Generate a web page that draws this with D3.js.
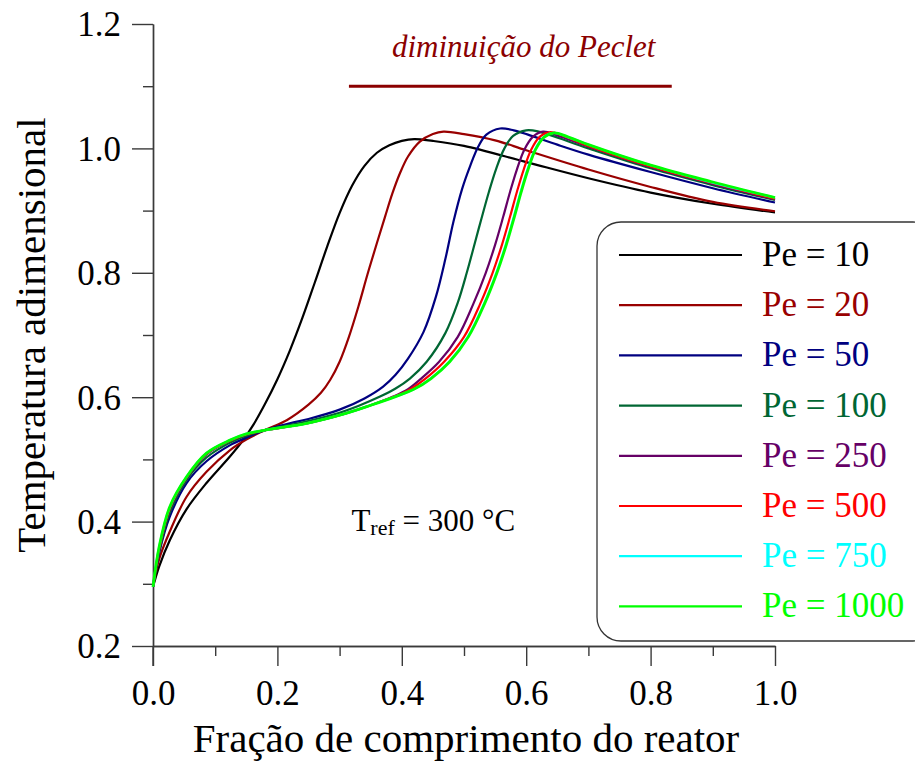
<!DOCTYPE html>
<html>
<head>
<meta charset="utf-8">
<script src="https://cdn.jsdelivr.net/npm/d3@7/dist/d3.min.js"></script>
<style>
  html, body { margin: 0; padding: 0; background: #fff; }
  svg { display: block; }
  text { font-family: "Liberation Serif", "Times New Roman", "DejaVu Serif", serif; }
</style>
</head>
<body>
<svg id="chart" width="915" height="762"></svg>
<script>
// Temperature profiles along the reactor for several Peclet numbers
const peLabels = ["Pe = 10", "Pe = 20", "Pe = 50", "Pe = 100", "Pe = 250", "Pe = 500", "Pe = 750", "Pe = 1000"];
const peColors = ["#000000", "#990000", "#000080", "#006633", "#660066", "#ff0000", "#00ffff", "#00ff00"];

const pe10 = [[0,0.295],[0.01,0.328],[0.027,0.37],[0.054,0.42],[0.086,0.462],[0.124,0.505],[0.145,0.531],[0.161,0.555],[0.18,0.589],[0.2,0.629],[0.22,0.675],[0.24,0.727],[0.26,0.784],[0.28,0.842],[0.3,0.896],[0.32,0.94],[0.34,0.972],[0.36,0.993],[0.38,1.005],[0.4,1.012],[0.42,1.015],[0.45,1.012],[0.5,1.004],[0.6,0.978],[0.7,0.952],[0.8,0.929],[0.9,0.911],[1.0,0.897]];
const pe20 = [[0,0.295],[0.01,0.34],[0.027,0.384],[0.054,0.44],[0.086,0.48],[0.124,0.515],[0.15,0.532],[0.18,0.547],[0.215,0.563],[0.25,0.588],[0.27,0.607],[0.285,0.628],[0.3,0.657],[0.315,0.697],[0.33,0.745],[0.345,0.798],[0.36,0.848],[0.373,0.89],[0.385,0.928],[0.397,0.96],[0.41,0.987],[0.429,1.011],[0.45,1.023],[0.467,1.027],[0.5,1.023],[0.55,1.013],[0.6,0.997],[0.7,0.966],[0.8,0.938],[0.9,0.914],[1.0,0.899]];
const pe50 = [[0,0.295],[0.01,0.35],[0.027,0.408],[0.054,0.462],[0.086,0.497],[0.124,0.523],[0.15,0.535],[0.18,0.547],[0.22,0.558],[0.25,0.565],[0.3,0.58],[0.34,0.598],[0.37,0.617],[0.39,0.636],[0.41,0.662],[0.435,0.705],[0.455,0.762],[0.47,0.822],[0.483,0.882],[0.497,0.935],[0.51,0.972],[0.523,1.003],[0.536,1.022],[0.558,1.032],[0.58,1.029],[0.606,1.021],[0.65,1.006],[0.7,0.99],[0.8,0.962],[0.9,0.936],[1.0,0.913]];
const pe100 = [[0,0.295],[0.01,0.352],[0.027,0.415],[0.054,0.467],[0.086,0.503],[0.124,0.527],[0.15,0.538],[0.18,0.547],[0.23,0.557],[0.29,0.572],[0.33,0.586],[0.365,0.601],[0.39,0.614],[0.413,0.63],[0.44,0.657],[0.47,0.703],[0.49,0.752],[0.505,0.802],[0.518,0.85],[0.528,0.887],[0.54,0.93],[0.552,0.968],[0.565,1.0],[0.579,1.02],[0.6,1.029],[0.62,1.027],[0.7,1.0],[0.8,0.968],[0.9,0.941],[1.0,0.917]];
const pe250 = [[0,0.295],[0.01,0.355],[0.027,0.42],[0.054,0.47],[0.086,0.508],[0.124,0.53],[0.15,0.54],[0.18,0.547],[0.247,0.558],[0.31,0.574],[0.35,0.587],[0.386,0.601],[0.41,0.613],[0.43,0.629],[0.46,0.657],[0.49,0.697],[0.515,0.75],[0.535,0.80],[0.55,0.845],[0.563,0.89],[0.574,0.93],[0.585,0.966],[0.597,0.998],[0.611,1.019],[0.627,1.027],[0.65,1.021],[0.7,1.003],[0.8,0.97],[0.9,0.943],[1.0,0.918]];
const pe500 = [[0,0.295],[0.01,0.357],[0.027,0.421],[0.054,0.471],[0.086,0.509],[0.124,0.53],[0.15,0.54],[0.18,0.547],[0.247,0.558],[0.31,0.574],[0.35,0.587],[0.388,0.601],[0.414,0.613],[0.437,0.629],[0.468,0.657],[0.5,0.697],[0.526,0.75],[0.546,0.80],[0.561,0.845],[0.574,0.89],[0.585,0.93],[0.596,0.966],[0.608,0.998],[0.622,1.019],[0.638,1.026],[0.66,1.02],[0.7,1.004],[0.8,0.971],[0.9,0.944],[1.0,0.919]];
const pe750 = [[0,0.295],[0.01,0.36],[0.027,0.423],[0.054,0.472],[0.086,0.51],[0.124,0.531],[0.15,0.541],[0.18,0.547],[0.247,0.558],[0.31,0.574],[0.35,0.587],[0.39,0.601],[0.42,0.613],[0.446,0.63],[0.476,0.657],[0.506,0.697],[0.532,0.75],[0.552,0.80],[0.567,0.845],[0.58,0.89],[0.591,0.93],[0.602,0.966],[0.614,0.998],[0.628,1.018],[0.644,1.025],[0.665,1.019],[0.7,1.006],[0.8,0.973],[0.9,0.945],[1.0,0.921]];
const pe1000 = [[0,0.295],[0.01,0.36],[0.027,0.424],[0.054,0.472],[0.086,0.51],[0.124,0.531],[0.15,0.541],[0.18,0.547],[0.247,0.558],[0.31,0.574],[0.35,0.587],[0.39,0.601],[0.42,0.613],[0.447,0.63],[0.477,0.657],[0.507,0.697],[0.533,0.75],[0.553,0.80],[0.568,0.845],[0.581,0.89],[0.592,0.93],[0.603,0.966],[0.615,0.998],[0.629,1.018],[0.645,1.025],[0.666,1.019],[0.7,1.006],[0.8,0.973],[0.9,0.946],[1.0,0.921]];
const series = [pe10, pe20, pe50, pe100, pe250, pe500, pe750, pe1000];

const xTicks = [0, 0.2, 0.4, 0.6, 0.8, 1.0];
const xMinor = [0.1, 0.3, 0.5, 0.7, 0.9];
const yTicks = [0.2, 0.4, 0.6, 0.8, 1.0, 1.2];
const yMinor = [0.3, 0.5, 0.7, 0.9, 1.1];

const serif = '"Liberation Serif", "Times New Roman", serif';
const svg = d3.select("#chart");
const x = d3.scaleLinear().domain([0, 1]).range([153, 775]);
const y = d3.scaleLinear().domain([0.2, 1.2]).range([646, 24]);

const axisColor = "#3a3a3a";
const fmt = d3.format(".1f");

// x axis: major ticks with labels, minor ticks without
const gx = svg.append("g").attr("transform", `translate(0,${y(0.2)})`);
gx.call(d3.axisBottom(x).tickValues(xTicks).tickSize(20).tickSizeOuter(0).tickFormat(fmt));
gx.append("g").call(d3.axisBottom(x).tickValues(xMinor).tickSize(10).tickSizeOuter(0).tickFormat(""));
gx.selectAll("text").attr("font-size", 35).attr("fill", "#000").attr("dy", null).attr("y", 59);

// y axis
const gy = svg.append("g").attr("transform", `translate(${x(0)},0)`);
gy.call(d3.axisLeft(y).tickValues(yTicks).tickSize(21).tickSizeOuter(0).tickFormat(fmt));
gy.append("g").call(d3.axisLeft(y).tickValues(yMinor).tickSize(10).tickSizeOuter(0).tickFormat(""));
gy.selectAll("text").attr("font-size", 35).attr("fill", "#000").attr("x", -32).attr("dy", "0.34em");

// y axis extends down to the length of a major tick
gy.append("line").attr("x1", 0).attr("x2", 0).attr("y1", y(0.2)).attr("y2", y(0.2) + 20);

svg.selectAll("g").attr("font-family", serif);
svg.selectAll(".domain, .tick line").attr("stroke", axisColor).attr("stroke-width", 1.4);
gy.selectAll("line").attr("stroke", axisColor).attr("stroke-width", 1.4);
svg.selectAll(".domain").attr("fill", "none");

// curves
const line = d3.line().x(d => x(d[0])).y(d => y(d[1])).curve(d3.curveCatmullRom.alpha(0.5));
svg.append("g").selectAll("path").data(series).join("path")
  .attr("d", line)
  .attr("fill", "none")
  .attr("stroke", (d, i) => peColors[i])
  .attr("stroke-width", (d, i) => i === series.length - 1 ? 2.8 : 2.2)
  .attr("stroke-linejoin", "round");

// trend annotation
svg.append("line")
  .attr("x1", x(0.315)).attr("x2", x(0.834))
  .attr("y1", y(1.1)).attr("y2", y(1.1))
  .attr("stroke", "#8b0000").attr("stroke-width", 3);
svg.append("text")
  .attr("x", x(0.596)).attr("y", y(1.147))
  .attr("text-anchor", "middle").attr("font-family", serif)
  .attr("font-size", 31).attr("font-style", "italic").attr("fill", "#8b0000")
  .text("diminuição do Peclet");

// reference temperature
const tref = svg.append("text").attr("x", x(0.319)).attr("y", 531)
  .attr("font-family", serif).attr("font-size", 31).attr("fill", "#000");
tref.append("tspan").text("T");
tref.append("tspan").attr("font-size", 22).attr("dy", 4).text("ref");
tref.append("tspan").attr("dy", -4).text(" = 300 °C");

// legend
const legend = svg.append("g").attr("font-family", serif);
legend.append("rect")
  .attr("x", 597).attr("y", 222).attr("width", 340).attr("height", 419)
  .attr("rx", 24).attr("ry", 24)
  .attr("fill", "#fff").attr("stroke", "#333").attr("stroke-width", 1.3);
const rowY = i => 255 + i * 50.2;
peLabels.forEach((lab, i) => {
  legend.append("line")
    .attr("x1", 619).attr("x2", 742)
    .attr("y1", rowY(i)).attr("y2", rowY(i))
    .attr("stroke", peColors[i]).attr("stroke-width", 2.2);
  legend.append("text")
    .attr("x", 762).attr("y", rowY(i) + 11)
    .attr("font-size", 35).attr("fill", peColors[i])
    .text(lab);
});

// axis titles
svg.append("text")
  .attr("x", 466).attr("y", 752).attr("font-family", serif)
  .attr("text-anchor", "middle").attr("font-size", 41).attr("fill", "#000")
  .text("Fração de comprimento do reator");
svg.append("text")
  .attr("transform", "translate(45,335) rotate(-90)").attr("font-family", serif)
  .attr("text-anchor", "middle").attr("font-size", 41).attr("fill", "#000")
  .text("Temperatura adimensional");
</script>
</body>
</html>
